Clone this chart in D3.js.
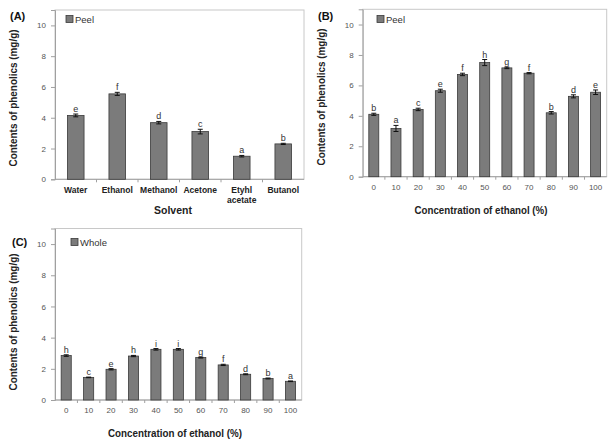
<!DOCTYPE html>
<html><head><meta charset="utf-8">
<script src="https://cdn.jsdelivr.net/npm/d3@7"></script>
<style>body{margin:0;background:#fff}svg{display:block}</style>
</head><body>
<svg id="c" width="616" height="448"></svg>
<script>
// ---- data ----
const solventCategories = ["Water","Ethanol","Methanol","Acetone","Etyhl acetate","Butanol"];
const solventValues = [4.15, 5.55, 3.68, 3.1, 1.5, 2.3];
const solventErrors = [0.09, 0.1, 0.08, 0.15, 0.05, 0.04];
const solventLetters = ["e","f","d","c","a","b"];

const ethanolCategories = ["0","10","20","30","40","50","60","70","80","90","100"];
const peelValues = [4.1, 3.17, 4.42, 5.65, 6.72, 7.5, 7.15, 6.8, 4.2, 5.28, 5.55];
const peelErrors = [0.07, 0.2, 0.08, 0.1, 0.08, 0.2, 0.05, 0.04, 0.08, 0.1, 0.15];
const peelLetters = ["b","a","c","e","f","h","g","f","b","d","e"];

const wholeValues = [2.85, 1.45, 1.97, 2.82, 3.25, 3.25, 2.72, 2.25, 1.65, 1.38, 1.2];
const wholeErrors = [0.05, 0.02, 0.04, 0.04, 0.05, 0.05, 0.03, 0.04, 0.03, 0.03, 0.02];
const wholeLetters = ["h","c","e","h","i","i","g","f","d","b","a"];

const yTicks = [0, 2, 4, 6, 8, 10];
const yTitle = "Contents of phenolics (mg/g)";

const svg = d3.select("#c");
const FONT = "'Liberation Sans', Arial, sans-serif";

function panel(o) {
  const g = svg.append("g");
  const x = d3.scaleBand().domain(o.cats).range([o.left, o.right]).paddingInner(o.pad).paddingOuter(o.pad/2);
  const y = d3.scaleLinear().domain([0, 11]).range([o.bottom, o.top]);

  // frame
  g.append("rect").attr("x", o.left).attr("y", o.top).attr("width", o.right - o.left).attr("height", o.bottom - o.top)
    .attr("fill", "none").attr("stroke", "#c8c8c8").attr("stroke-width", 1);

  // y axis
  const ya = d3.axisLeft(y).tickValues(yTicks).tickSize(4).tickPadding(5);
  const yg = g.append("g").attr("transform", `translate(${o.left},0)`).call(ya);
  yg.select(".domain").attr("stroke", "#a0a0a0");
  yg.selectAll(".tick line").attr("stroke", "#a0a0a0");
  yg.selectAll("text").attr("fill", "#555").attr("font-family", FONT).attr("font-size", 8);

  // x axis line + boundary ticks
  g.append("line").attr("x1", o.left).attr("x2", o.right).attr("y1", o.bottom).attr("y2", o.bottom).attr("stroke", "#a0a0a0");
  const step = x.step();
  const bounds = d3.range(1, o.cats.length).map(i => x(o.cats[i]) - step * o.pad / 2);
  g.selectAll(".bt").data(bounds).join("line")
    .attr("x1", d => d).attr("x2", d => d).attr("y1", o.bottom).attr("y2", o.bottom + 3).attr("stroke", "#a0a0a0");

  // x labels
  const xl = g.selectAll(".xl").data(o.cats).join("text")
    .attr("x", d => x(d) + x.bandwidth() / 2).attr("y", o.xLabelY)
    .attr("text-anchor", "middle").attr("font-family", FONT)
    .attr("font-size", o.xBold ? 8.5 : 8).attr("font-weight", o.xBold ? "bold" : "normal")
    .attr("fill", o.xBold ? "#222" : "#555");
  xl.each(function(d) {
    const parts = d.split(" ");
    const t = d3.select(this);
    parts.forEach((p, i) => t.append("tspan").attr("x", x(d) + x.bandwidth() / 2).attr("dy", i ? 10 : 0).text(p));
  });

  // bars
  g.selectAll(".bar").data(o.vals).join("rect")
    .attr("x", (d, i) => x(o.cats[i])).attr("width", x.bandwidth())
    .attr("y", d => y(d)).attr("height", d => y(0) - y(d))
    .attr("fill", "#7b7b7b").attr("stroke", "#3a3a3a").attr("stroke-width", 0.8);

  // error bars
  const cx = i => x(o.cats[i]) + x.bandwidth() / 2;
  o.vals.forEach((v, i) => {
    const e = o.errs[i];
    g.append("line").attr("x1", cx(i)).attr("x2", cx(i)).attr("y1", y(v - e)).attr("y2", y(v + e)).attr("stroke", "#111").attr("stroke-width", 1);
    [v - e, v + e].forEach(w => g.append("line").attr("x1", cx(i) - 2.5).attr("x2", cx(i) + 2.5).attr("y1", y(w)).attr("y2", y(w)).attr("stroke", "#111").attr("stroke-width", 1));
  });

  // letters
  g.selectAll(".lt").data(o.letters).join("text")
    .attr("x", (d, i) => cx(i)).attr("y", (d, i) => y(o.vals[i] + o.errs[i]) - 2)
    .attr("text-anchor", "middle").attr("font-family", FONT).attr("font-size", 9).attr("fill", "#333").text(d => d);

  // legend
  g.append("rect").attr("x", o.legX).attr("y", o.legY - 3.5).attr("width", 7).attr("height", 7)
    .attr("fill", "#7b7b7b").attr("stroke", "#3a3a3a").attr("stroke-width", 0.8);
  g.append("text").attr("x", o.legX + 9).attr("y", o.legY + 3.5).attr("font-family", FONT).attr("font-size", 9.5)
    .attr("fill", "#333").text(o.legend);

  // titles
  g.append("text").attr("transform", `translate(${o.yTitleX},${o.yTitleY}) rotate(-90)`)
    .attr("text-anchor", "middle").attr("font-family", FONT).attr("font-size", 10.5).attr("font-weight", "bold")
    .attr("fill", "#222").attr("textLength", 137).attr("lengthAdjust", "spacingAndGlyphs").text(yTitle);
  const xt = g.append("text").attr("x", o.xTitleX).attr("y", o.xTitleY)
    .attr("text-anchor", "middle").attr("font-family", FONT).attr("font-size", 10.5).attr("font-weight", "bold")
    .attr("fill", "#222").text(o.xTitle);
  if (o.xTitleLen) xt.attr("textLength", o.xTitleLen).attr("lengthAdjust", "spacingAndGlyphs");
  g.append("text").attr("x", o.tagX).attr("y", o.tagY).attr("font-family", FONT).attr("font-size", 11)
    .attr("font-weight", "bold").attr("fill", "#111").text(o.tag);
}

panel({cats: solventCategories, vals: solventValues, errs: solventErrors, letters: solventLetters,
  left: 55, right: 304, top: 10, bottom: 179.3, pad: 0.6, xBold: true, xLabelY: 193,
  legX: 66, legY: 19, legend: "Peel", yTitleX: 17, yTitleY: 98,
  xTitle: "Solvent", xTitleX: 173, xTitleY: 214, tag: "(A)", tagX: 10, tagY: 20});

panel({cats: ethanolCategories, vals: peelValues, errs: peelErrors, letters: peelLetters,
  left: 362.7, right: 606.7, top: 9.3, bottom: 176.7, pad: 0.55, xBold: false, xLabelY: 190,
  legX: 377, legY: 19, legend: "Peel", yTitleX: 325, yTitleY: 97,
  xTitle: "Concentration of ethanol (%)", xTitleLen: 133, xTitleX: 481, xTitleY: 214, tag: "(B)", tagX: 318, tagY: 20});

panel({cats: ethanolCategories, vals: wholeValues, errs: wholeErrors, letters: wholeLetters,
  left: 55, right: 301.7, top: 228.5, bottom: 400, pad: 0.55, xBold: false, xLabelY: 413,
  legX: 71, legY: 242, legend: "Whole", yTitleX: 17, yTitleY: 322,
  xTitle: "Concentration of ethanol (%)", xTitleLen: 134, xTitleX: 175, xTitleY: 437, tag: "(C)", tagX: 12, tagY: 246});
</script>
</body></html>
